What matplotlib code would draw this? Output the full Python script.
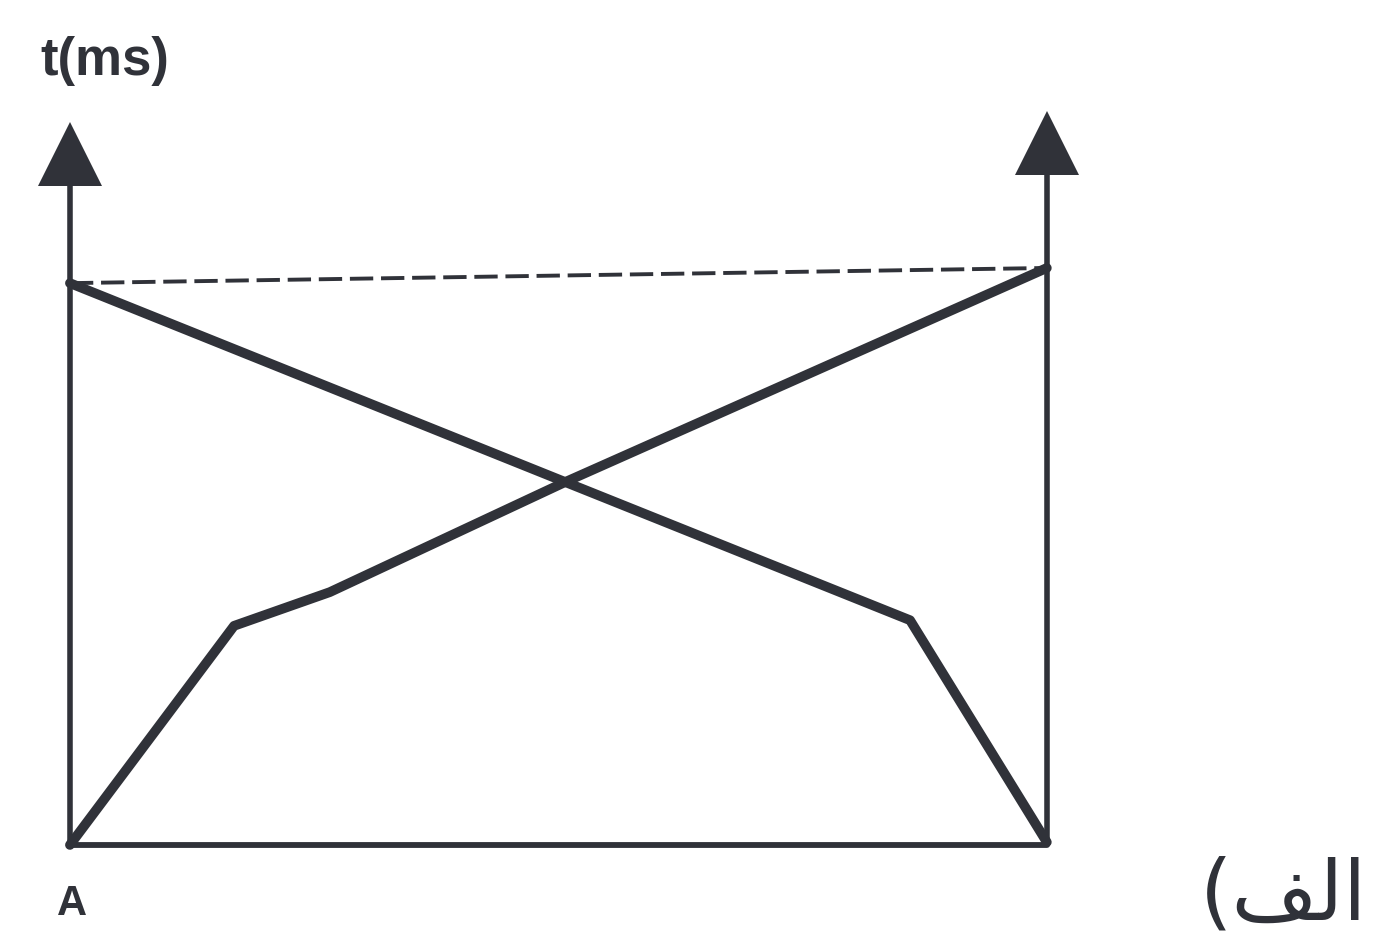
import numpy as np
import matplotlib
matplotlib.use("Agg")
import matplotlib.pyplot as plt

# distance along the line (arbitrary units, A at 0, far end at 10) vs time
x_rise = [0.0, 1.68, 2.66, 5.07, 10.0]
t_rise = [0.0, 3.9, 4.5, 6.46, 10.27]

x_fall = [0.0, 5.07, 8.6, 10.0]
t_fall = [10.0, 6.46, 4.0, 0.05]

x_ref = [0.0, 10.0]
t_ref = [10.0, 10.27]

x_axes = [0.0, 10.0]
axis_top = [12.3, 12.5]

ink = "#303239"

fig = plt.figure(figsize=(13.77, 9.5), dpi=100)
ax = fig.add_axes([0, 0, 1, 1])
ax.set_xlim(-0.716, 13.38)
ax.set_ylim(-1.87, 15.04)
ax.axis("off")

# bottom line and the two vertical time axes
ax.plot(x_axes, [0, 0], color=ink, lw=4.2, solid_capstyle="round")
for xa, top in zip(x_axes, axis_top):
    ax.plot([xa, xa], [0, top], color=ink, lw=4.0, solid_capstyle="butt")
    ax.plot(xa, top, marker="^", markersize=46, color=ink, markeredgewidth=0)

# dashed reference level
ax.plot(x_ref, t_ref, color=ink, lw=2.8, ls=(0, (6, 2)))

# the two thick curves
kw = dict(color=ink, lw=7, solid_joinstyle="round", solid_capstyle="round")
ax.plot(x_rise, t_rise, **kw)
ax.plot(x_fall, t_fall, **kw)

ax.text(0.36, 13.95, "t(ms)", ha="center", va="center", fontsize=38,
        fontweight="bold", family="Liberation Sans", color=ink)
ax.text(0.02, -1.05, "A", ha="center", va="center", fontsize=30,
        fontweight="bold", family="Liberation Sans", color=ink)
ax.text(12.42, -0.9, "(\ufed2\ufedf\ufe8d", ha="center", va="center",
        fontsize=60, family="DejaVu Sans", color=ink)

fig.savefig("out.png", dpi=100, facecolor="white")
